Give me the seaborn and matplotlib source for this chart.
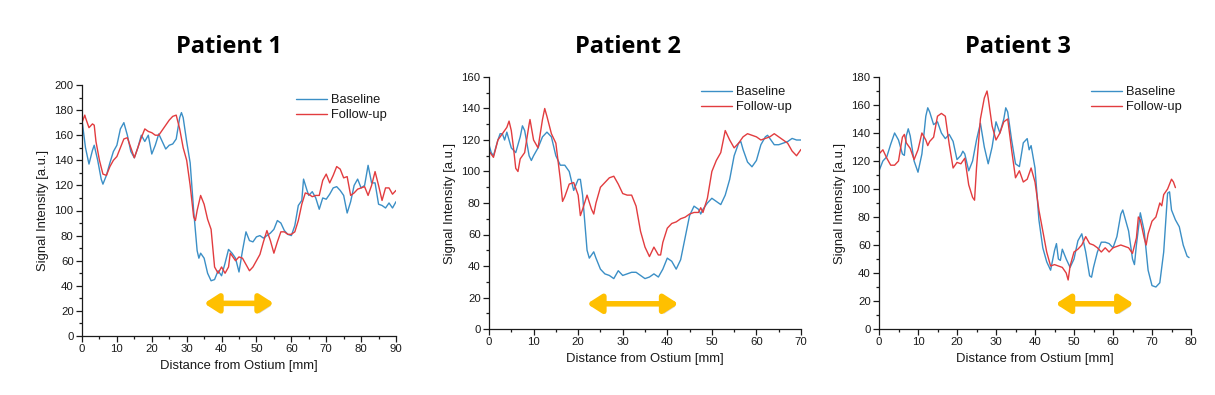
import numpy as np
import pandas as pd
import matplotlib
matplotlib.use("Agg")
import matplotlib.pyplot as plt
import seaborn as sns
from matplotlib.ticker import MultipleLocator, AutoMinorLocator
import matplotlib.patheffects as pe

# ---------------- data ----------------
titles = ["Patient 1", "Patient 2", "Patient 3"]
series_names = ["Baseline", "Follow-up"]

p1_base_x = [0, 1, 2, 3, 3.5, 4.5, 5.5, 6, 7, 8, 9, 10, 11, 12, 13, 14, 15, 16, 17, 18, 19, 20, 21, 22, 23, 24, 25, 26, 27, 28, 28.5, 29, 30, 31, 32, 33, 33.5, 34, 35, 36, 37, 38, 39, 40, 41, 42, 43, 44, 45, 46, 47, 48, 49, 50, 51, 52, 53, 54, 55, 56, 57, 58, 59, 60, 61, 62, 63, 63.5, 64.5, 65, 66, 67, 68, 69, 70, 71, 72, 73, 74, 75, 76, 77, 78, 79, 80, 81, 82, 83, 84, 85, 86, 87, 88, 89, 90]
p1_base_y = [172, 150, 137, 148, 152, 140, 125, 121, 128, 138, 147, 152, 165, 170, 160, 147, 142, 150, 160, 155, 160, 145, 152, 161, 155, 149, 152, 153, 157, 174, 178, 174, 155, 138, 100, 68, 62, 66, 62, 50, 44, 45, 52, 48, 58, 69, 66, 62, 51, 68, 83, 76, 75, 79, 80, 78, 80, 82, 85, 92, 90, 84, 81, 80, 88, 104, 108, 125, 116, 112, 115, 110, 101, 110, 109, 113, 118, 119, 116, 112, 98, 107, 120, 125, 118, 120, 136, 122, 122, 105, 104, 102, 106, 102, 107]
p1_fu_x = [0, 0.8, 1, 2, 3, 3.5, 4, 5, 6, 7, 8, 9, 10, 11, 12, 13, 14, 15, 16, 17, 18, 19, 20, 21, 22, 23, 24, 25, 26, 27, 28, 29, 30, 31, 32, 32.5, 33, 34, 35, 36, 37, 38, 39, 40, 41, 42, 42.5, 43, 44, 45, 46, 47, 48, 49, 50, 51, 52, 53, 54, 55, 56, 57, 58, 59, 60, 61, 62, 63, 64, 65, 66, 67, 68, 69, 70, 71, 72, 73, 74, 75, 76, 77, 78, 79, 80, 81, 82, 83, 84, 85, 86, 87, 88, 89, 90]
p1_fu_y = [170, 176, 174, 166, 169, 168, 155, 140, 129, 128, 135, 140, 143, 150, 157, 158, 150, 142, 150, 158, 165, 163, 162, 160, 160, 164, 168, 172, 175, 176, 165, 150, 140, 120, 95, 92, 100, 112, 105, 93, 85, 55, 50, 55, 50, 55, 66, 64, 60, 63, 62, 57, 52, 55, 60, 65, 75, 84, 76, 66, 75, 83, 83, 81, 81, 83, 92, 105, 114, 113, 111, 112, 112, 124, 129, 122, 128, 135, 133, 126, 127, 112, 114, 117, 118, 119, 112, 120, 131, 120, 108, 118, 118, 113, 116]

p2_base_x = [0, 0.5, 1, 2, 2.5, 3, 3.5, 4, 5, 6, 7, 7.5, 8, 9, 9.5, 10, 11, 12, 13, 14, 15, 16, 17, 18, 19, 20, 20.5, 21, 22, 22.5, 23, 23.5, 24, 25, 26, 27, 28, 29, 30, 31, 32, 33, 34, 35, 36, 37, 38, 39, 40, 41, 42, 43, 44, 45, 46, 47, 47.5, 48, 49, 50, 51, 52, 53, 54, 55, 56, 56.5, 57, 58, 59, 60, 61, 62, 62.5, 63, 64, 65, 66, 67, 68, 69, 70]
p2_base_y = [117, 112, 110, 120, 124, 124, 120, 125, 115, 112, 122, 129, 126, 110, 107, 110, 115, 122, 125, 122, 110, 104, 104, 100, 88, 95, 95, 85, 50, 45, 47, 49, 45, 38, 35, 34, 32, 37, 34, 35, 36, 36, 34, 32, 33, 35, 33, 38, 45, 43, 38, 44, 58, 72, 78, 76, 73, 76, 80, 83, 81, 79, 85, 95, 110, 118, 119, 114, 106, 103, 107, 117, 122, 123, 121, 117, 117, 118, 119, 121, 120, 120]
p2_fu_x = [0, 1, 2, 3, 4, 4.5, 5, 5.5, 6, 6.5, 7, 8, 9, 9.2, 10, 11, 12, 12.5, 13, 14, 15, 16, 16.5, 17, 18, 19, 20, 20.5, 21, 22, 23, 23.5, 24, 25, 26, 27, 28, 29, 30, 31, 32, 33, 34, 35, 36, 37, 38, 38.5, 39, 40, 41, 42, 43, 44, 45, 46, 47, 47.5, 48, 49, 50, 51, 52, 53, 54, 55, 56, 57, 58, 59, 60, 61, 62, 63, 64, 65, 66, 67, 68, 69, 70]
p2_fu_y = [113, 109, 120, 124, 128, 132, 126, 115, 102, 100, 108, 112, 130, 133, 120, 115, 133, 140, 135, 124, 118, 95, 81, 84, 92, 93, 85, 72, 76, 85, 76, 73, 80, 90, 93, 96, 97, 92, 86, 85, 85, 78, 62, 52, 46, 52, 47, 47, 55, 64, 67, 68, 70, 71, 73, 74, 74, 77, 74, 83, 100, 107, 112, 126, 120, 115, 118, 122, 124, 123, 122, 120, 121, 122, 124, 122, 120, 118, 113, 110, 114]

p3_base_x = [0, 1, 2, 3, 4, 5, 6, 6.5, 7, 7.5, 8, 9, 10, 11, 12, 12.5, 13, 14, 15, 16, 17, 18, 19, 20, 21, 21.5, 22, 23, 24, 25, 26, 27, 28, 29, 30, 31, 32, 32.5, 33, 34, 35, 36, 37, 38, 38.5, 39, 40, 41, 42, 43, 44, 45, 45.5, 46, 46.5, 47, 48, 49, 50, 51, 52, 53, 54, 54.5, 55, 56, 57, 58, 59, 60, 61, 62, 62.5, 63, 64, 65, 65.5, 66, 67, 68, 69, 70, 71, 72, 73, 74, 74.5, 75, 76, 77, 78, 79, 79.5]
p3_base_y = [113, 120, 123, 132, 140, 135, 125, 124, 138, 143, 138, 120, 112, 125, 152, 158, 155, 146, 148, 140, 136, 139, 134, 121, 124, 127, 125, 113, 120, 135, 147, 130, 118, 130, 148, 140, 150, 158, 155, 135, 118, 116, 133, 136, 128, 131, 115, 78, 58, 48, 42, 56, 61, 50, 49, 57, 50, 44, 50, 63, 68, 55, 38, 37, 44, 55, 62, 62, 61, 58, 66, 82, 85, 80, 70, 50, 46, 60, 83, 70, 42, 31, 30, 33, 55, 97, 98, 85, 78, 73, 60, 52, 51]
p3_fu_x = [0, 1, 2, 3, 4, 5, 6, 6.5, 7, 8, 9, 10, 11, 12, 12.5, 13, 14, 15, 16, 17, 18, 19, 20, 21, 22, 23, 24, 24.5, 25, 26, 27, 27.7, 28, 29, 30, 31, 32, 33, 34, 35, 36, 37, 38, 39, 40, 41, 42, 43, 44, 45, 46, 47, 48, 48.5, 49, 50, 51, 52, 53, 54, 55, 56, 57, 58, 59, 60, 61, 62, 63, 64, 65, 66, 66.5, 67, 68, 68.5, 69, 70, 71, 72, 72.5, 73, 74, 75, 75.5, 76]
p3_fu_y = [125, 128, 122, 117, 117, 120, 137, 139, 133, 129, 121, 128, 140, 135, 131, 134, 137, 152, 154, 152, 132, 115, 119, 118, 122, 103, 94, 92, 115, 150, 165, 170, 165, 145, 135, 140, 148, 150, 128, 108, 113, 105, 107, 115, 105, 85, 70, 55, 45, 46, 45, 44, 40, 35, 45, 55, 57, 60, 66, 61, 60, 58, 55, 58, 55, 58, 59, 60, 59, 58, 54, 65, 80, 78, 65, 60, 68, 77, 80, 90, 88, 96, 100, 107, 105, 101]

# lesion arrows (start, end, level) in data units
arrow_start = [35, 22, 45.3]
arrow_end = [55, 42.5, 65.3]
arrow_level = [26, 16, 18]

x_max = [90, 70, 80]
y_max = [200, 160, 180]
x_step = [10, 10, 10]
y_step = [20, 20, 20]

panels = [
    (p1_base_x, p1_base_y, p1_fu_x, p1_fu_y),
    (p2_base_x, p2_base_y, p2_fu_x, p2_fu_y),
    (p3_base_x, p3_base_y, p3_fu_x, p3_fu_y),
]

# ---------------- style ----------------
sns.set_theme(style="ticks")
plt.rcParams['font.family'] = ['Liberation Sans', 'DejaVu Sans']

blue = "#3b8fc6"
red = "#e23c3f"
gold = "#ffc000"
ink = "#1a1a1a"

fig = plt.figure(figsize=(12.15, 3.95), dpi=100)
rects = [
    [82 / 1215, 59 / 395, 314 / 1215, 251 / 395],
    [489 / 1215, 66 / 395, 312 / 1215, 252 / 395],
    [879 / 1215, 66 / 395, 312 / 1215, 252 / 395],
]
title_x = [229 / 1215, 628 / 1215, 1018 / 1215]

for i, (bx, by, fx, fy) in enumerate(panels):
    ax = fig.add_axes(rects[i])
    df = pd.concat([
        pd.DataFrame({"x": bx, "y": by, "series": series_names[0]}),
        pd.DataFrame({"x": fx, "y": fy, "series": series_names[1]}),
    ])
    sns.lineplot(data=df, x="x", y="y", hue="series", sort=False,
                 palette={series_names[0]: blue, series_names[1]: red},
                 linewidth=1.0, ax=ax, estimator=None)
    ax.set_xlim(0, x_max[i])
    ax.set_ylim(0, y_max[i])
    ax.xaxis.set_major_locator(MultipleLocator(x_step[i]))
    ax.yaxis.set_major_locator(MultipleLocator(y_step[i]))
    ax.xaxis.set_minor_locator(AutoMinorLocator(2))
    ax.yaxis.set_minor_locator(AutoMinorLocator(2))
    ax.tick_params(which="major", direction="out", length=4, width=0.9,
                   labelsize=8.2, pad=2, color=ink, labelcolor=ink)
    ax.tick_params(which="minor", direction="out", length=2.5, width=0.9, color=ink)
    for s in ["top", "right"]:
        ax.spines[s].set_visible(False)
    for s in ["left", "bottom"]:
        ax.spines[s].set_linewidth(0.9)
        ax.spines[s].set_color(ink)
    ax.set_xlabel("Distance from Ostium [mm]", fontsize=9.4, labelpad=4, color=ink)
    ax.set_ylabel("Signal Intensity [a.u.]", fontsize=9.4, labelpad=4, color=ink)
    leg = ax.legend(loc="upper right", frameon=False, fontsize=9.3,
                    handlelength=2.4, handletextpad=0.3, borderaxespad=0.3,
                    labelspacing=0.25, bbox_to_anchor=(1.0, 1.0))
    for t in leg.get_texts():
        t.set_color(ink)
    for h in leg.get_lines():
        h.set_linewidth(1.0)

    # lesion arrow with soft shadow
    a0, a1, lv = arrow_start[i], arrow_end[i], arrow_level[i]
    ax.annotate("", xy=(a1, lv), xytext=(a0, lv),
                arrowprops=dict(arrowstyle="<|-|>,head_length=0.7,head_width=0.45",
                                color=gold, lw=4.0, shrinkA=0, shrinkB=0,
                                path_effects=[pe.SimplePatchShadow(offset=(1.5, -2.0), shadow_rgbFace="#888888", alpha=0.35),
                                              pe.Normal()]))

    fig.text(title_x[i], 348 / 395, titles[i], ha="center", va="center",
             fontsize=17, fontweight="bold", color="black",
             family=["Open Sans", "DejaVu Sans"])

fig.savefig("out.png", dpi=100, facecolor="white")
